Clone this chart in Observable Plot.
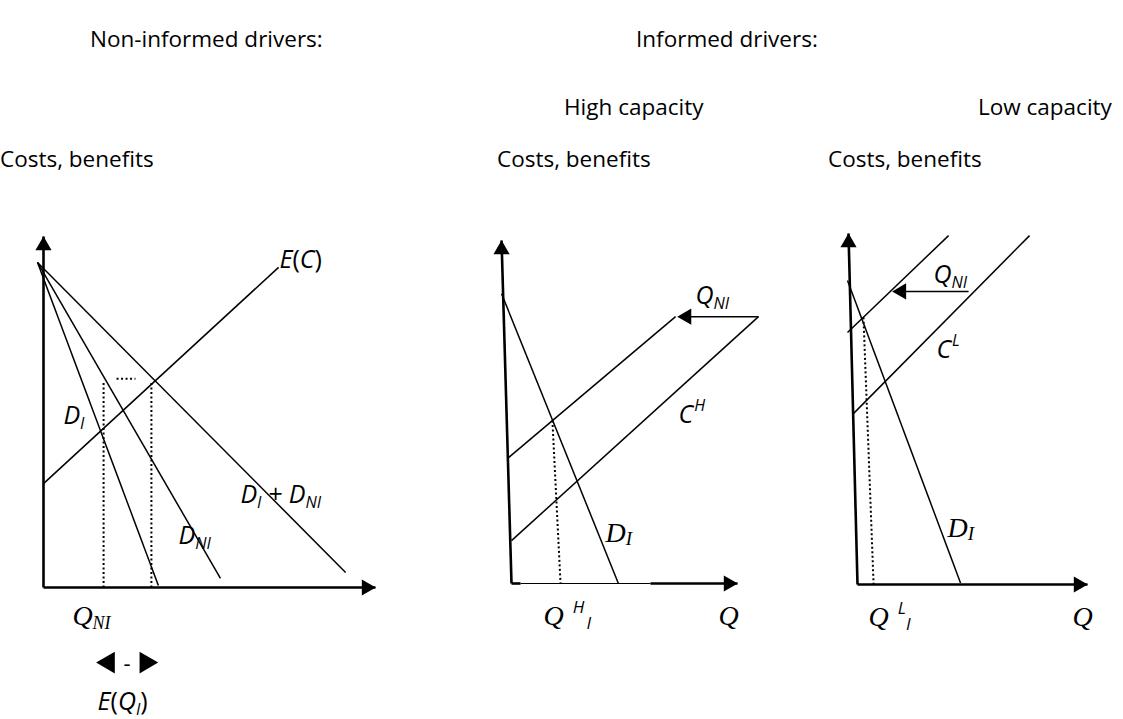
<!DOCTYPE html>
<html><head><meta charset="utf-8">
<script src="https://cdn.jsdelivr.net/npm/d3@7"></script>
<script src="https://cdn.jsdelivr.net/npm/@observablehq/plot@0.6"></script>
<style>
body{margin:0;background:#fff;}
#wrap{position:relative;width:1123px;height:719px;overflow:hidden;font-family:"Open Sans",sans-serif;}
#wrap svg{position:absolute;left:0;top:0;background:transparent !important;}
.t{position:absolute;font-size:22.5px;color:#000;white-space:nowrap;line-height:1;}
</style></head><body><div id="wrap"></div>
<script>
// ---------- titles ----------
const titles = ["Non-informed drivers:", "Informed drivers:", "High capacity", "Low capacity", "Costs, benefits", "Costs, benefits", "Costs, benefits"];

// ---------- Non-informed drivers panel (units: Q 0..100, cost 0..100) ----------
const niAxes = [{q1:0,c1:0,q2:0,c2:100},{q1:0,c1:0,q2:100,c2:0}];
const niCurves = [
  {name:"D_I",        q1:-1.8,c1:92.6,q2:34.6,c2:0.6},
  {name:"D_NI",       q1:-1.8,c1:92.6,q2:53.3,c2:2.6},
  {name:"D_I + D_NI", q1:-1.8,c1:92.6,q2:91.0,c2:4.3},
  {name:"E(C)",       q1:0,   c1:29.6,q2:70.8,c2:91.2}
];
const niDotted = [
  {q1:18.1,c1:0,q2:18.1,c2:59.0},
  {q1:32.5,c1:0,q2:32.5,c2:58.4},
  {q1:22.0,c1:59.5,q2:27.7,c2:59.5}
];
const niArrows = [{q:0,c:100,dir:"up"},{q:100,c:0,dir:"right"}];
// E(Q_I) range marker below the axis (two solid triangles)
const niRange = [{q:19.6,c:-21.4,dir:"left"},{q:30.8,c:-21.4,dir:"right"}];

// ---------- High capacity panel ----------
const hiAxes = [{q1:0,c1:0,q2:-4.4,c2:100},{q1:0,c1:0,q2:4,c2:0},{q1:61.5,c1:0,q2:100,c2:0}];
const hiThin = [{q1:4,c1:0,q2:61.5,c2:0}];
const hiCurves = [
  {name:"D_I",       q1:-4.4,c1:84.5,q2:47.3,c2:0},
  {name:"C^H + Q_NI",q1:-1.3,c1:36.7,q2:72.6,c2:77.8},
  {name:"C^H",       q1:0,   c1:12.5,q2:109.3,c2:77.8},
  {name:"Q_NI shift",q1:109.3,c1:77.8,q2:76,c2:77.8}
];
const hiDotted = [{q1:18.1,c1:47.5,q2:21.7,c2:0}];
const hiArrows = [{q:-4.4,c:100,dir:"up"},{q:100,c:0,dir:"right"},{q:73.5,c:77.8,dir:"left"}];

// ---------- Low capacity panel ----------
const loAxes = [{q1:0,c1:0,q2:-3.9,c2:100},{q1:0,c1:0,q2:100,c2:0}];
const loCurves = [
  {name:"D_I",       q1:-4.35,c1:86.6,q2:44.8,c2:0.4},
  {name:"C^L + Q_NI",q1:-4.35,c1:71.8,q2:39.6,c2:99.4},
  {name:"C^L",       q1:-2.2, c1:48.4,q2:74.8,c2:99.4},
  {name:"Q_NI shift",q1:48.3, c1:83.5,q2:18,  c2:83.5}
];
const loDotted = [{q1:2.6,c1:76.1,q2:7,c2:0}];
const loArrows = [{q:-3.9,c:100,dir:"up"},{q:100,c:0,dir:"right"},{q:15.2,c:83.5,dir:"left"}];

// ---------- label styles ----------
const SANS = "'Open Sans', sans-serif", SERIF = "'Liberation Serif', 'Times New Roman', serif";
const si = (t, o={}) => ({t, family:SANS, size:25, style:"italic", ...o});
const sn = (t, o={}) => ({t, family:SANS, size:25, style:"normal", ...o});
const sub = (t, o={}) => ({t, family:SANS, size:16, style:"italic", dy:5, gap:0, ...o});
const sup = (t, o={}) => ({t, family:SANS, size:16, style:"italic", dy:-12, gap:0, ...o});
const ti = (t, o={}) => ({t, family:SERIF, size:28, style:"italic", ...o});

const niLabels = [
  {q:71.1,c:90.9,parts:[si("E"),sn("("),si("C"),sn(")")]},
  {q:6.0, c:46.7,parts:[si("D"),sub("I")]},
  {q:59.3,c:24.2,parts:[si("D"),sub("I"),si(" + D"),sub("NI")]},
  {q:40.7,c:12.5,parts:[si("D"),sub("NI")]},
  {q:8.7, c:-10.8,parts:[ti("Q"),ti("NI",{size:18,dy:4})]},
  {q:25.2,c:-21.4,anchor:"middle",parts:[sn("-",{size:22,dy:8})]},
  {q:16.3,c:-35,parts:[si("E"),sn("("),si("Q"),sub("I"),sn(")")]}
];
const hiLabels = [
  {q:81.4,c:81.6,parts:[si("Q"),sub("NI")]},
  {q:73.9,c:46.9,parts:[si("C"),sup("H",{gap:1})]},
  {q:41.6,c:12.0,parts:[ti("D"),ti("I",{size:19,dy:3})]},
  {q:14.2,c:-12.2,parts:[ti("Q"),sup("H",{size:17,gap:9,dy:-12}),sub("I",{size:17,gap:2,dy:4})]},
  {q:91.6,c:-12.2,parts:[ti("Q")]}
];
const loLabels = [
  {q:33.0,c:85.8,parts:[si("Q"),sub("NI")]},
  {q:34.3,c:64.4,parts:[si("C"),sup("L",{gap:1})]},
  {q:39.1,c:13.4,parts:[ti("D"),ti("I",{size:19,dy:3})]},
  {q:4.8, c:-11.7,parts:[ti("Q"),sup("L",{size:17,gap:9,dy:-12}),sub("I",{size:17,gap:0,dy:4})]},
  {q:93.5,c:-11.7,parts:[ti("Q")]}
];

// ---------- helpers ----------
const ctx = document.createElement("canvas").getContext("2d");
function measure(p){ ctx.font = `${p.style} ${p.size}px ${p.family}`; return ctx.measureText(p.t).width; }
function labelMarks(labels){
  const marks = [];
  for (const L of labels){
    const total = L.parts.reduce((s,p)=>s+(p.gap||0)+measure(p),0);
    let dx = L.anchor === "middle" ? -total/2 : 0;
    for (const p of L.parts){
      dx += p.gap||0;
      marks.push(Plot.text([L], {x:"q", y:"c", text:()=>p.t, dx, dy:p.dy||0,
        fontSize:p.size, fontFamily:p.family, fontStyle:p.style, textAnchor:"start", lineAnchor:"bottom", fill:"black"}));
      dx += measure(p);
    }
  }
  return marks;
}
const L = {x1:"q1", y1:"c1", x2:"q2", y2:"c2", stroke:"black"};
function panel({xr, yr, axes, thin=[], curves, dotted, arrows, range=[], labels}){
  return Plot.plot({
    width:1123, height:719, marginTop:0, marginRight:0, marginBottom:0, marginLeft:0,
    style:{background:"transparent", overflow:"visible"},
    x:{domain:[0,100], range:xr, axis:null},
    y:{domain:[0,100], range:yr, axis:null},
    marks:[
      Plot.link(thin, {...L, strokeWidth:1}),
      Plot.link(axes, {...L, strokeWidth:2.6, strokeLinecap:"butt"}),
      Plot.link(curves, {...L, strokeWidth:1.5}),
      Plot.link(dotted, {...L, strokeWidth:2, strokeDasharray:"2,2.5"}),
      Plot.dot(arrows.filter(a=>a.dir==="up"), {x:"q", y:"c", symbol:"triangle", r:6, fill:"black", dy:9}),
      Plot.dot(arrows.filter(a=>a.dir==="right"), {x:"q", y:"c", symbol:"triangle", r:6, fill:"black", rotate:90, dx:-9}),
      Plot.dot(arrows.filter(a=>a.dir==="left"), {x:"q", y:"c", symbol:"triangle", r:6, fill:"black", rotate:-90, dx:9}),
      Plot.dot(range, {x:"q", y:"c", symbol:"triangle", r:8, fill:"black", rotate:d=>d.dir==="left"?-90:90}),
      ...labelMarks(labels)
    ]
  });
}

const wrap = document.getElementById("wrap");
wrap.append(panel({xr:[43,375], yr:[587,236], axes:niAxes, curves:niCurves, dotted:niDotted, arrows:niArrows, range:niRange, labels:niLabels}));
wrap.append(panel({xr:[511,737], yr:[583,240], axes:hiAxes, thin:hiThin, curves:hiCurves, dotted:hiDotted, arrows:hiArrows, labels:hiLabels}));
wrap.append(panel({xr:[857,1087], yr:[584,233], axes:loAxes, curves:loCurves, dotted:loDotted, arrows:loArrows, labels:loLabels}));

const titlePos = [[90,28],[636,28],[564,96],[978,96],[0,148],[497,148],[828,148]];
titles.forEach((t,i)=>{
  const d = document.createElement("div");
  d.className = "t"; d.textContent = t;
  d.style.left = titlePos[i][0]+"px"; d.style.top = titlePos[i][1]+"px";
  wrap.append(d);
});
</script>
</body></html>
